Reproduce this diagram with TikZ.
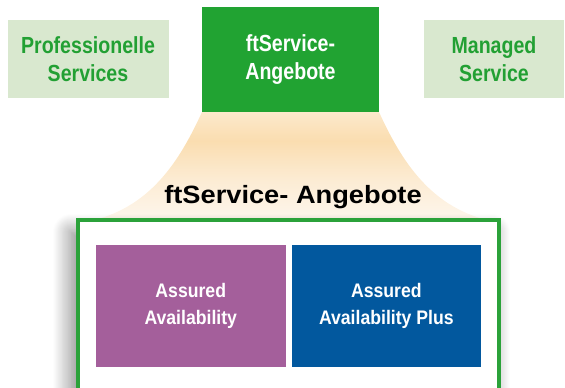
\documentclass[tikz,border=0pt]{standalone}
\usepackage{fontspec}
\setmainfont{Liberation Sans}
\newfontfamily\condtop[FakeStretch=0.84]{Liberation Sans}
\newfontfamily\condbox[FakeStretch=0.90]{Liberation Sans}
\newfontfamily\widetitle[FakeStretch=1.09]{Liberation Sans}
\usetikzlibrary{shadows.blur}
\definecolor{topgreen}{HTML}{21A332}
\definecolor{lightgreen}{HTML}{D9E8CF}
\definecolor{textgreen}{HTML}{22A033}
\definecolor{framegreen}{HTML}{2BA23A}
\definecolor{aapurple}{HTML}{A45F9B}
\definecolor{aablue}{HTML}{02589E}
\definecolor{fanB}{HTML}{FEF7EE}
\definecolor{fanM}{HTML}{FCEBD2}
\definecolor{fanP}{HTML}{FADDB0}
\definecolor{fanT}{HTML}{FCE9CC}
\pgfdeclareverticalshading{fanshade}{100bp}{color(0bp)=(fanB); color(25bp)=(fanB); color(45bp)=(fanM); color(62bp)=(fanP); color(75bp)=(fanT); color(100bp)=(fanT)}
\begin{document}
\begin{tikzpicture}[x=1pt,y=-1pt,
  sidebox/.style={rectangle, fill=lightgreen, text=textgreen, inner sep=0pt, align=center,
    font=\condtop\bfseries\fontsize{23.3}{27.7}\selectfont},
  mainbox/.style={rectangle, fill=topgreen, text=white, inner sep=0pt, align=center,
    font=\condtop\bfseries\fontsize{23.3}{27.7}\selectfont},
  offerbox/.style={rectangle, text=white, inner sep=0pt, align=center,
    font=\condbox\bfseries\fontsize{19.6}{27.6}\selectfont},
  framebox/.style={rectangle, draw=framegreen, line width=4pt, fill=white, inner sep=0pt,
    blur shadow={shadow xshift=-7pt, shadow yshift=-12pt, shadow blur radius=18pt,
      shadow opacity=50, shadow blur steps=20}},
  titletext/.style={inner sep=0pt, text=black, font=\widetitle\bfseries\fontsize{25}{30}\selectfont}
]
\useasboundingbox (0,0) rectangle (565,388);
% fan
\shade[shading=fanshade] (202,112) .. controls (180,160) and (150,210) .. (85,222)
  -- (496,222) .. controls (431,210) and (401,160) .. (379,112) -- cycle;
% top row
\node[sidebox, minimum width=161pt, minimum height=78pt] (prof) at (88,59) {Professionelle\\Services};
\node[mainbox, minimum width=177pt, minimum height=105pt] (ftsa) at (290.5,59.5) {ftService-\\Angebote};
\node[sidebox, minimum width=140pt, minimum height=78pt] (mgd) at (494,59) {Managed\\Service};
% frame
\node[framebox, minimum width=421pt, minimum height=180pt] (frame) at (288.5,310) {};
% title
\node[titletext, anchor=base] (title) at (293,203.3) {ftService- Angebote};
% offers
\node[offerbox, fill=aapurple, minimum width=189.5pt, minimum height=122pt] (aa) at (190.75,306) {Assured\\Availability};
\node[offerbox, fill=aablue, minimum width=189.3pt, minimum height=122pt] (aap) at (386.35,306) {Assured\\Availability Plus};
\end{tikzpicture}
\end{document}
